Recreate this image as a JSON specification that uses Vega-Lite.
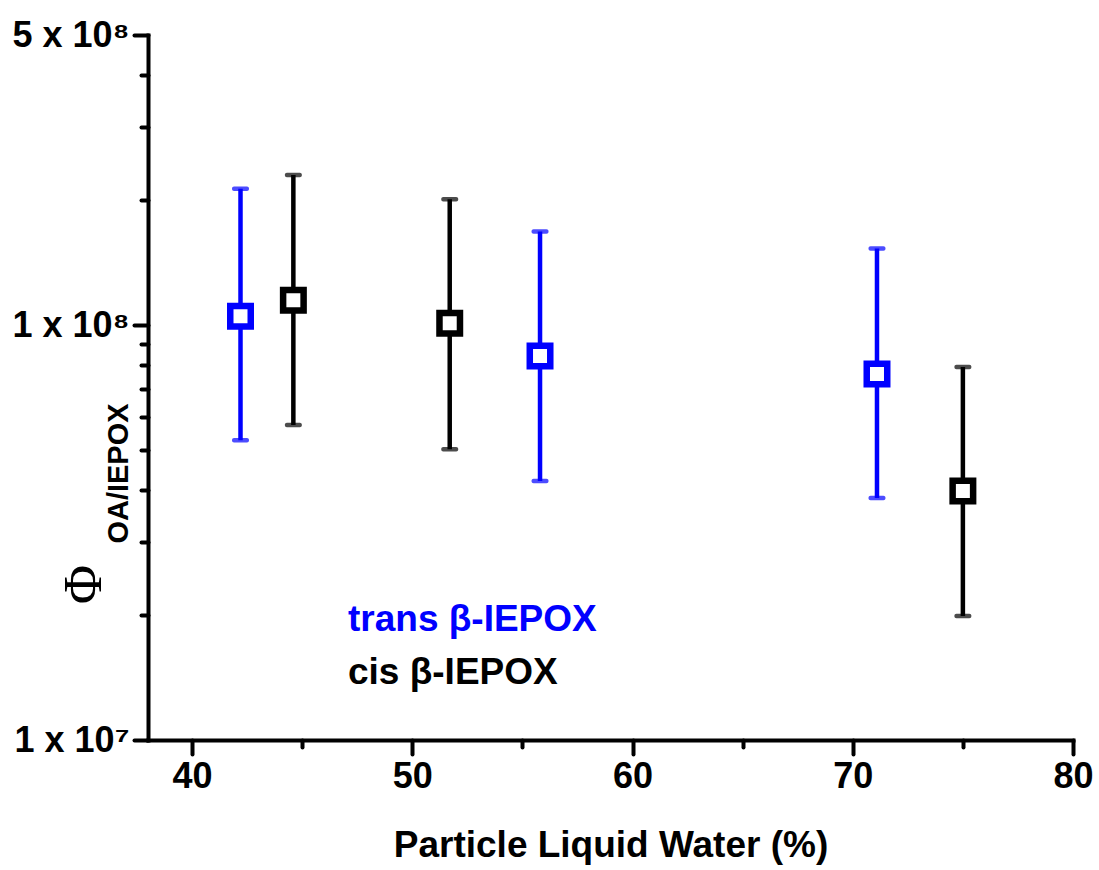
{
  "$schema": "https://vega.github.io/schema/vega-lite/v6.json",
  "width": 925,
  "height": 705,
  "autosize": {"type": "none"},
  "padding": {"left": 148, "top": 35, "right": 26, "bottom": 130},
  "background": "white",
  "config": {
    "view": {"stroke": null},
    "font": "Liberation Sans",
    "axis": {"grid": false, "domainColor": "black", "tickColor": "black", "labelColor": "black", "titleColor": "black", "labelFont": "Liberation Sans", "titleFont": "Liberation Sans", "labelFontWeight": "bold", "titleFontWeight": "bold"}
  },
  "title": {"text": "Φ", "orient": "left", "anchor": "middle", "font": "Liberation Serif", "fontSize": 54, "fontWeight": "normal", "color": "black", "offset": 0, "dx": -197, "dy": 100},
  "data": {
    "values": [
      {"water": 42.2, "phi": 105000000, "lo": 52800000, "hi": 213000000, "isomer": "trans"},
      {"water": 55.8, "phi": 84200000, "lo": 42100000, "hi": 168000000, "isomer": "trans"},
      {"water": 71.1, "phi": 76200000, "lo": 38300000, "hi": 153000000, "isomer": "trans"},
      {"water": 44.6, "phi": 114800000, "lo": 57400000, "hi": 230000000, "isomer": "cis"},
      {"water": 51.7, "phi": 101000000, "lo": 50200000, "hi": 201000000, "isomer": "cis"},
      {"water": 75.0, "phi": 39800000, "lo": 19900000, "hi": 79200000, "isomer": "cis"}
    ]
  },
  "encoding": {
    "x": {
      "field": "water", "type": "quantitative",
      "scale": {"domain": [38, 80], "nice": false, "zero": false},
      "axis": {
        "title": "Particle Liquid Water (%)",
        "values": [40, 45, 50, 55, 60, 65, 70, 75, 80],
        "labelExpr": "datum.value % 10 == 0 ? datum.label : ''",
        "tickSize": {"condition": {"test": "datum.value % 10 == 0", "value": 14}, "value": 7},
        "tickWidth": 4, "domainWidth": 4, "domainCap": "square", "tickCap": "round",
        "labelFontSize": 36, "labelPadding": 5, "labelOverlap": false, "labelFlush": false,
        "titleFontSize": 37, "titlePadding": 33
      }
    },
    "color": {
      "field": "isomer", "type": "nominal",
      "scale": {"domain": ["trans", "cis"], "range": ["#0000FF", "#000000"]},
      "legend": null
    }
  },
  "layer": [
    {
      "mark": {"type": "rule", "strokeWidth": 4.5},
      "encoding": {
        "y": {
          "field": "lo", "type": "quantitative",
          "scale": {"type": "log", "domain": [10000000, 500000000], "nice": false},
          "axis": {
            "title": "OA/IEPOX",
            "values": [10000000, 20000000, 30000000, 40000000, 50000000, 60000000, 70000000, 80000000, 90000000, 100000000, 200000000, 300000000, 400000000, 500000000],
            "labelExpr": "datum.value == 10000000 ? '1 x 10⁷' : datum.value == 100000000 ? '1 x 10⁸' : datum.value == 500000000 ? '5 x 10⁸' : ''",
            "tickSize": {"condition": {"test": "datum.value == 10000000 || datum.value == 100000000 || datum.value == 500000000", "value": 14}, "value": 7},
            "tickWidth": 4, "domainWidth": 4, "domainCap": "square", "tickCap": "round",
            "labelFontSize": 36, "labelPadding": 5, "labelOverlap": false, "labelFlush": false, "labelBound": false,
            "titleFontSize": 29, "titleAngle": -90, "titleX": -21, "titleY": 438, "titleAlign": "center", "titleBaseline": "alphabetic"
          }
        },
        "y2": {"field": "hi"},
        "color": {
          "field": "isomer", "type": "nominal",
          "scale": {"domain": ["trans", "cis"], "range": ["#0000FF", "#000000"]},
          "legend": {
            "orient": "none", "legendX": 163, "legendY": 566, "title": null,
            "symbolSize": 0, "symbolOpacity": 0, "symbolStrokeWidth": 0, "labelOffset": 0,
            "labelFont": "Liberation Sans", "labelFontWeight": "bold", "labelFontSize": 37, "labelLimit": 0,
            "labelExpr": "datum.label + ' β-IEPOX'",
            "labelColor": {"expr": "datum.value == 'trans' ? '#0000FF' : '#000000'"},
            "rowPadding": 15
          }
        }
      }
    },
    {
      "mark": {"type": "tick", "orient": "horizontal", "size": 17, "thickness": 4.5, "cornerRadius": 2},
      "encoding": {"y": {"field": "lo", "type": "quantitative"}}
    },
    {
      "mark": {"type": "tick", "orient": "horizontal", "size": 17, "thickness": 4.5, "cornerRadius": 2},
      "encoding": {"y": {"field": "hi", "type": "quantitative"}}
    },
    {
      "mark": {"type": "point", "shape": "square", "filled": false, "fill": "white", "fillOpacity": 1, "strokeWidth": 6.5, "size": 420, "opacity": 1},
      "encoding": {"y": {"field": "phi", "type": "quantitative"}}
    }
  ]
}
